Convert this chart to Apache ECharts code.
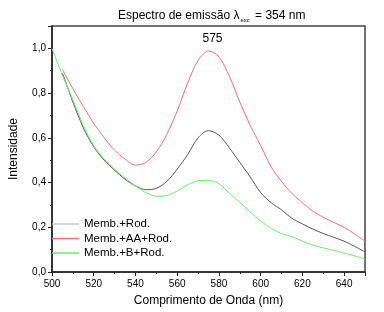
<!DOCTYPE html>
<html>
<head>
<meta charset="utf-8">
<script src="https://cdn.jsdelivr.net/npm/echarts@6/dist/echarts.min.js"></script>
<style>
  html, body { margin: 0; padding: 0; background: #fff; }
  #chart { width: 384px; height: 312px; }
</style>
</head>
<body>
<div id="chart"></div>
<script>
const wavelengths = [500, 505, 510, 515, 520, 525, 530, 535, 540, 545, 550, 555, 560, 565, 570, 575,
  580, 585, 590, 595, 600, 605, 610, 615, 620, 625, 630, 635, 640, 645, 650];
const membRod = [null, 0.89, 0.76, 0.645, 0.56, 0.5, 0.455, 0.415, 0.385, 0.368, 0.374, 0.405, 0.46, 0.525, 0.6, 0.632,
  0.612, 0.555, 0.49, 0.425, 0.355, 0.31, 0.278, 0.24, 0.215, 0.192, 0.172, 0.155, 0.138, 0.115, 0.09];
const membAARod = [null, 0.905, 0.82, 0.74, 0.665, 0.6, 0.545, 0.505, 0.478, 0.49, 0.537, 0.615, 0.72, 0.845, 0.946, 0.988,
  0.962, 0.875, 0.76, 0.655, 0.565, 0.47, 0.405, 0.351, 0.31, 0.272, 0.245, 0.222, 0.2, 0.17, 0.138];
const membBRod = [1.0, 0.88, 0.77, 0.655, 0.565, 0.505, 0.46, 0.42, 0.385, 0.355, 0.339, 0.342, 0.362, 0.39, 0.408, 0.41,
  0.395, 0.352, 0.312, 0.268, 0.228, 0.195, 0.172, 0.158, 0.138, 0.12, 0.108, 0.097, 0.085, 0.072, 0.058];
const seriesNames = ["Memb.+Rod.", "Memb.+AA+Rod.", "Memb.+B+Rod."];
const peakLabel = "575";

const font = "Liberation Sans";
const pairs = (vals) => wavelengths.map((w, i) => [w, vals[i]]).filter((p) => p[1] !== null);

const chart = echarts.init(document.getElementById("chart"));
let option = {
  animation: false,
  title: {
    text: "{a|Espectro de emissão λ}{s|exc}{a| = 354 nm}",
    left: 113,
    top: 4,
    textStyle: {
      fontWeight: "normal",
      rich: {
        a: { fontFamily: font, fontSize: 12, fontWeight: "normal", color: "#000" },
        s: { fontFamily: font, fontSize: 6, fontWeight: "normal", color: "#000", padding: [8, 2, 0, 1] },
      },
    },
  },
  grid: {
    left: 43,
    right: 19,
    top: 26,
    bottom: 40,
    show: true,
    borderColor: "#444",
    borderWidth: 1.5,
  },
  legend: {
    orient: "vertical",
    left: 47,
    top: 213,
    icon: "rect",
    itemWidth: 27,
    itemHeight: 1.5,
    itemGap: 2.5,
    textStyle: { fontFamily: font, fontSize: 11.5, color: "#000", lineHeight: 12 },
    data: [
      { name: seriesNames[0], itemStyle: { color: "#c4c4c4" } },
      { name: seriesNames[1], itemStyle: { color: "#ff7070" } },
      { name: seriesNames[2], itemStyle: { color: "#66ee66" } },
    ],
  },
  xAxis: {
    type: "value",
    min: 500,
    max: 650,
    interval: 20,
    name: "Comprimento de Onda (nm)",
    nameLocation: "middle",
    nameGap: 23,
    nameTextStyle: { fontFamily: font, fontSize: 12, color: "#000" },
    axisLine: { lineStyle: { color: "#222", width: 1.5 } },
    axisTick: { inside: false, length: 4, lineStyle: { color: "#222" } },
    minorTick: { show: true, splitNumber: 2, length: 2, lineStyle: { color: "#222" } },
    splitLine: { show: false },
    axisLabel: {
      showMaxLabel: false,
      margin: 7,
      fontFamily: font,
      fontSize: 10,
      color: "#000",
    },
  },
  yAxis: {
    type: "value",
    min: 0,
    max: 1.1,
    interval: 0.2,
    name: "Intensidade",
    nameLocation: "middle",
    nameGap: 32,
    nameTextStyle: { fontFamily: font, fontSize: 12, color: "#000" },
    axisLine: { show: true, lineStyle: { color: "#222", width: 1.5 } },
    axisTick: { show: true, length: 4, lineStyle: { color: "#222" } },
    minorTick: { show: true, splitNumber: 2, length: 2, lineStyle: { color: "#222" } },
    splitLine: { show: false },
    axisLabel: {
      showMaxLabel: false,
      margin: 6,
      fontFamily: font,
      fontSize: 10,
      color: "#000",
      formatter: (v) => (Math.abs(v * 5 - Math.round(v * 5)) < 1e-6 ? v.toFixed(1).replace(".", ",") : ""),
    },
  },
  series: [
    {
      name: seriesNames[0],
      type: "line",
      data: pairs(membRod),
      smooth: 0.3,
      symbol: "none",
      lineStyle: { color: "#555", width: 1 },
      itemStyle: { color: "#c4c4c4" },
    },
    {
      name: seriesNames[1],
      type: "line",
      data: pairs(membAARod),
      smooth: 0.3,
      symbol: "none",
      lineStyle: { color: "#ff6a6a", width: 1 },
      itemStyle: { color: "#ff6a6a" },
      markPoint: {
        symbol: "circle",
        symbolSize: 0,
        data: [{ coord: [575, 0.988] }],
        label: {
          show: true,
          formatter: peakLabel,
          offset: [4, -12],
          fontFamily: font,
          fontSize: 12,
          color: "#000",
        },
      },
    },
    {
      name: seriesNames[2],
      type: "line",
      data: pairs(membBRod),
      smooth: 0.3,
      symbol: "none",
      lineStyle: { color: "#66ee66", width: 1 },
      itemStyle: { color: "#66ee66" },
    },
  ],
};

chart.setOption(option);
</script>
</body>
</html>
